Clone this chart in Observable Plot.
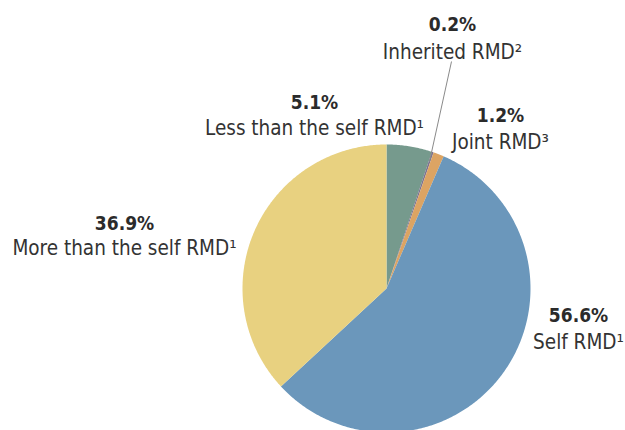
<!DOCTYPE html>
<html>
<head>
<meta charset="utf-8">
<script src="https://cdn.jsdelivr.net/npm/d3@7"></script>
<script src="https://cdn.jsdelivr.net/npm/@observablehq/plot@0.6"></script>
<style>
  html, body { margin: 0; padding: 0; background: #fff; }
  #chart svg { display: block; }
</style>
</head>
<body>
<div id="chart"></div>
<script>
// ---- data ----
const categories = ["Less than the self RMD", "Inherited RMD", "Joint RMD", "Self RMD", "More than the self RMD"];
const shares = [5.1, 0.2, 1.2, 56.6, 36.9];
const footnotes = ["¹", "²", "³", "¹", "¹"];
const colors = ["#769a8d", "#7b7290", "#dca463", "#6b97bb", "#e8d180"];

// ---- layout (label anchors in pie-radius units, centre = 0,0) ----
const W = 625, H = 430, CX = 386, CY = 288, R = 144;
const px = (x) => (x - CX) / R, py = (y) => (CY - y) / R;
const labelAnchors = [
  {x: px(314), y1: py(108), y2: py(134)},
  {x: px(452), y1: py(30), y2: py(58)},
  {x: px(500), y1: py(121), y2: py(148)},
  {x: px(578), y1: py(321), y2: py(348)},
  {x: px(124), y1: py(229), y2: py(254)}
];

const arcs = d3.pie().sort(null).value(d => d)(shares);
const slices = arcs.map((a, i) => {
  const pts = [{x: 0, y: 0}];
  const n = Math.max(2, Math.ceil((a.endAngle - a.startAngle) / 0.01));
  for (let k = 0; k <= n; k++) {
    const t = a.startAngle + (a.endAngle - a.startAngle) * k / n;
    pts.push({x: Math.sin(t), y: Math.cos(t)});
  }
  pts.push({x: 0, y: 0});
  return {pts, color: colors[i]};
});

const labels = categories.map((c, i) => ({
  pct: shares[i].toFixed(1) + "%",
  name: c + footnotes[i],
  ...labelAnchors[i]
}));

// leader for the tiny "Inherited" slice
const inh = arcs[1];
const mid = (inh.startAngle + inh.endAngle) / 2;
const leader = [{x1: 0.93 * Math.sin(mid), y1: 0.93 * Math.cos(mid), x2: px(451), y2: py(61)}];

const font = "'DejaVu Sans Condensed', 'Liberation Sans Narrow', 'DejaVu Sans', sans-serif";

const chart = Plot.plot({
  width: W, height: H,
  margin: 0,
  x: {domain: [-1, 1], range: [CX - R, CX + R], axis: null},
  y: {domain: [-1, 1], range: [CY + R, CY - R], axis: null},
  style: {fontFamily: font, background: "#fff", overflow: "visible"},
  marks: [
    ...slices.map(s => Plot.line(s.pts, {x: "x", y: "y", fill: s.color, stroke: "none", curve: "linear"})),
    Plot.link(leader, {x1: "x1", y1: "y1", x2: "x2", y2: "y2", stroke: "#8a8a8a", strokeWidth: 1}),
    Plot.text(labels, {x: "x", y: "y1", text: "pct", fontWeight: "bold", fontSize: 19, fill: "#2b2b2b", lineAnchor: "bottom", textAnchor: "middle"}),
    Plot.text(labels, {x: "x", y: "y2", text: "name", fontSize: 20.5, fill: "#333", lineAnchor: "bottom", textAnchor: "middle"})
  ]
});
document.getElementById("chart").appendChild(chart);
</script>
</body>
</html>
